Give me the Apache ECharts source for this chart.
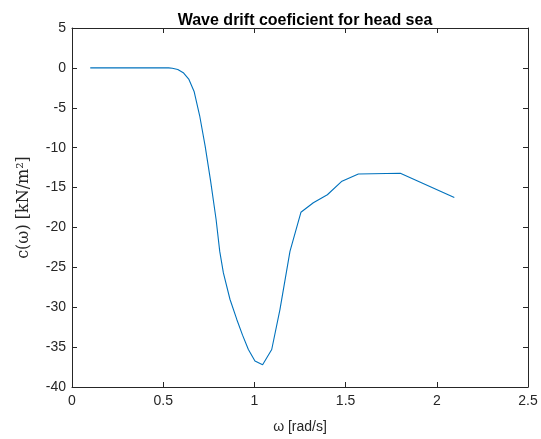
<!DOCTYPE html>
<html>
<head>
<meta charset="utf-8">
<script src="https://cdn.jsdelivr.net/npm/echarts@6/dist/echarts.min.js"></script>
<style>html,body{margin:0;padding:0;background:#fff}#c{width:541px;height:439px}</style>
</head>
<body>
<div id="c"></div>
<script>
var omega = [0.1, 0.2, 0.3, 0.4, 0.5, 0.53, 0.55, 0.58, 0.61, 0.64, 0.67, 0.70, 0.73, 0.76, 0.79, 0.81, 0.83, 0.866, 0.903, 0.935, 0.967, 1.003, 1.045, 1.095, 1.14, 1.195, 1.255, 1.323, 1.40, 1.48, 1.57, 1.80, 2.096];
var drift = [0, 0, 0, 0, 0, 0, -0.05, -0.2, -0.6, -1.4, -3.0, -6.0, -9.8, -14.2, -19.0, -23.0, -25.7, -29.0, -31.5, -33.5, -35.3, -36.75, -37.2, -35.3, -30.3, -23.0, -18.1, -16.9, -15.9, -14.2, -13.3, -13.2, -16.25];
var xTicks = [0, 0.5, 1, 1.5, 2, 2.5];
var yTicks = [5, 0, -5, -10, -15, -20, -25, -30, -35, -40];

var axisCol = '#262626';
var font = 'Liberation Sans, Arial, Helvetica, sans-serif';
var data = omega.map(function (x, i) { return [x, drift[i]]; });

var chart = echarts.init(document.getElementById('c'), null, {renderer: 'canvas'});
function xAx(pos, show) {
  return {
    type: 'value', position: pos, min: xTicks[0], max: xTicks[xTicks.length - 1], interval: 0.5,
    axisLine: {show: true, onZero: false, lineStyle: {color: axisCol, width: 1}},
    axisTick: {show: true, inside: true, length: 5, lineStyle: {color: axisCol}},
    axisLabel: {show: show, color: axisCol, fontFamily: font, fontSize: 14, margin: 7},
    splitLine: {show: false},
    name: show ? 'ω [rad/s]' : '', nameLocation: 'middle', nameGap: 33,
    nameTextStyle: {color: axisCol, fontFamily: font, fontSize: 14}
  };
}
function yAx(pos, show) {
  return {
    type: 'value', position: pos, min: yTicks[yTicks.length - 1], max: yTicks[0], interval: 5,
    axisLine: {show: true, onZero: false, lineStyle: {color: axisCol, width: 1}},
    axisTick: {show: true, inside: true, length: 5, lineStyle: {color: axisCol}},
    axisLabel: {show: show, color: axisCol, fontFamily: font, fontSize: 14, margin: 6},
    splitLine: {show: false},
    name: show ? 'c(ω) [kN/m²]' : '', nameLocation: 'middle', nameGap: 40, nameRotate: 90,
    nameTextStyle: {color: axisCol, fontFamily: 'DejaVu Serif, Liberation Serif, serif', fontSize: 16}
  };
}
chart.setOption({
  animation: false,
  backgroundColor: '#fff',
  title: {
    text: 'Wave drift coeficient for head sea',
    left: 300, top: 8, textAlign: 'center',
    textStyle: {color: '#000', fontFamily: font, fontWeight: 'bold', fontSize: 16}
  },
  grid: {left: 72, right: 13, top: 28, bottom: 51, containLabel: false},
  xAxis: [xAx('bottom', true), xAx('top', false)],
  yAxis: [yAx('left', true), yAx('right', false)],
  series: [{
    type: 'line', xAxisIndex: 0, yAxisIndex: 0, data: data,
    showSymbol: false, symbol: 'none',
    lineStyle: {color: '#0072BD', width: 1.1}
  }]
});
</script>
</body>
</html>
